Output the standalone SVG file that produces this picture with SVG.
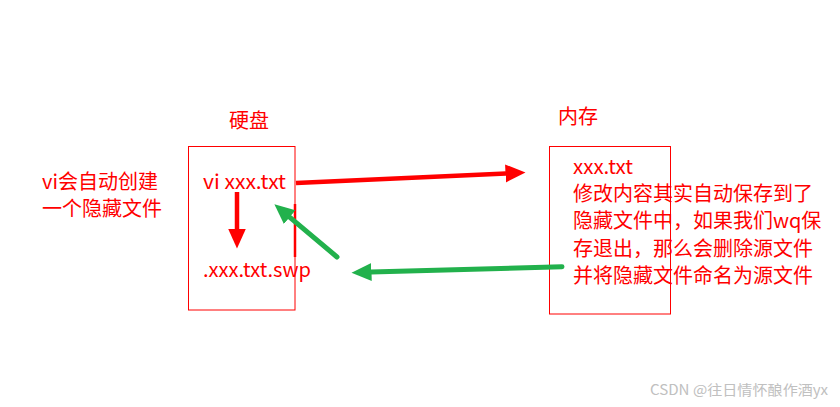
<svg xmlns="http://www.w3.org/2000/svg" width="840" height="407" viewBox="0 0 840 407">
<style>
.t{font-family:"Microsoft YaHei","Noto Sans CJK SC","Noto Sans",sans-serif;font-size:20px;fill:#ff0000}
.box{fill:none;stroke:#ff0000;stroke-width:1}
.red{stroke:#ff0000;stroke-width:4.5;fill:none}
.green{stroke:#22b14c;stroke-width:5;fill:none;stroke-linecap:round}
.wm{font-family:"Noto Sans CJK SC","Noto Sans",sans-serif;font-size:14px;fill:#c0c0c0}
</style>
<defs>
<marker id="hr" markerUnits="userSpaceOnUse" markerWidth="24" markerHeight="24" viewBox="0 -12 24 24" refX="0.5" refY="0" orient="auto"><path d="M0,-9 L20,0 L0,9 z" fill="#ff0000"/></marker>
<marker id="hg" markerUnits="userSpaceOnUse" markerWidth="24" markerHeight="24" viewBox="0 -12 24 24" refX="0.5" refY="0" orient="auto"><path d="M0,-9 L20,0 L0,9 z" fill="#22b14c"/></marker>
</defs>
<rect width="840" height="407" fill="#ffffff"/>
<g id="label-left"><text class="t" x="42" y="189">vi会自动创建</text><text class="t" x="42" y="216">一个隐藏文件</text></g>
<g id="disk">
<text class="t" x="229" y="128">硬盘</text>
<rect class="box" x="188.5" y="146.5" width="106.5" height="163.5"/>
<line x1="295" y1="204" x2="295" y2="257" stroke="#ff0000" stroke-width="2.5"/>
<text class="t" x="203" y="189" textLength="83" lengthAdjust="spacingAndGlyphs">vi xxx.txt</text>
<text class="t" x="203" y="277" textLength="108" lengthAdjust="spacingAndGlyphs">.xxx.txt.swp</text>
</g>
<g id="memory">
<text class="t" x="558" y="124">内存</text>
<rect class="box" x="549.5" y="146.5" width="121" height="167.5"/>
<text class="t" x="573" y="174" textLength="60" lengthAdjust="spacingAndGlyphs">xxx.txt</text>
<text class="t" x="573" y="201">修改内容其实自动保存到了</text>
<text class="t" x="573" y="228">隐藏文件中，如果我们wq保</text>
<text class="t" x="573" y="256">存退出，那么会删除源文件</text>
<text class="t" x="573" y="283">并将隐藏文件命名为源文件</text>
</g>
<g id="connectors">
<line class="red" x1="296" y1="183" x2="506" y2="173.4" marker-end="url(#hr)"/>
<line class="red" x1="237" y1="192" x2="237" y2="229" marker-end="url(#hr)"/>
<line class="green" x1="337" y1="257" x2="289.3" y2="216.9" marker-end="url(#hg)"/>
<line class="green" x1="562" y1="266.7" x2="371" y2="272.1" marker-end="url(#hg)"/>
</g>
<text class="wm" x="650" y="395" textLength="178" lengthAdjust="spacingAndGlyphs">CSDN @往日情怀酿作酒yx</text>
</svg>
